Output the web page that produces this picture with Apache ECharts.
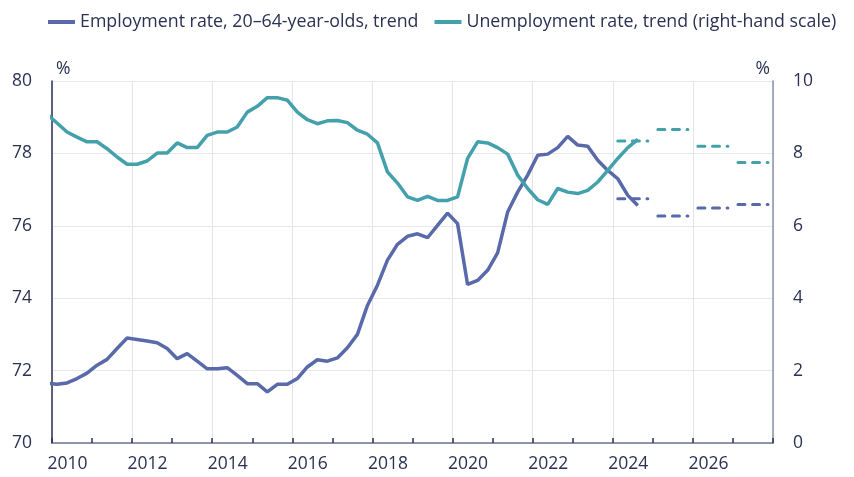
<!DOCTYPE html>
<html>
<head>
<meta charset="utf-8">
<script src="https://cdn.jsdelivr.net/npm/echarts@6/dist/echarts.min.js"></script>
<style>
  html, body { margin: 0; padding: 0; background: #fff; }
  #chart { width: 854px; height: 477px; }
</style>
</head>
<body>
<div id="chart"></div>
<script>
  // quarterly trend series, first point 2009 Q4, last 2024 Q3
  const startYear = 2009;
  const startQuarter = 4;
  const employment = [
    71.65, 71.62, 71.66, 71.78, 71.93, 72.15, 72.31, 72.61, 72.90, 72.86,
    72.82, 72.77, 72.61, 72.33, 72.47, 72.26, 72.05, 72.05, 72.08, 71.87,
    71.64, 71.64, 71.41, 71.62, 71.62, 71.78, 72.10, 72.30, 72.26, 72.35,
    72.63, 73.00, 73.80, 74.36, 75.05, 75.49, 75.71, 75.78, 75.67, 76.01,
    76.35, 76.06, 74.38, 74.49, 74.77, 75.25, 76.38, 76.93, 77.40, 77.95,
    77.98, 78.16, 78.47, 78.23, 78.20, 77.81, 77.53, 77.30, 76.84, 76.56
  ];
  const unemployment = [
    9.08, 8.84, 8.59, 8.45, 8.32, 8.32, 8.13, 7.90, 7.70, 7.70,
    7.79, 8.01, 8.01, 8.29, 8.16, 8.16, 8.50, 8.59, 8.59, 8.73,
    9.14, 9.30, 9.54, 9.54, 9.47, 9.14, 8.93, 8.82, 8.90, 8.91,
    8.85, 8.64, 8.53, 8.29, 7.49, 7.18, 6.80, 6.70, 6.81, 6.70,
    6.70, 6.80, 7.86, 8.32, 8.29, 8.16, 7.98, 7.40, 7.03, 6.72,
    6.59, 7.03, 6.93, 6.89, 6.98, 7.21, 7.53, 7.86, 8.16, 8.39
  ];
  // annual forecasts
  const forecastYears = [2024, 2025, 2026, 2027];
  const employmentForecast = [76.75, 76.27, 76.49, 76.59];
  const unemploymentForecast = [8.34, 8.66, 8.20, 7.75];

  const yLeftTicks = [70, 80, 2];
  const yRightTicks = [0, 10, 2];
  const xRange = [2010, 2028];

  const names = [
    'Employment rate, 20–64-year-olds, trend',
    'Unemployment rate, trend (right-hand scale)'
  ];

  const blue = '#5a69aa';
  const teal = '#44a1ac';
  const textColor = '#2b3152';

  // mid-quarter position on a year scale
  function qx(k) {
    let q = startQuarter - 1 + k;
    let y = startYear + Math.floor(q / 4);
    return y + ((q % 4) + 0.5) / 4;
  }
  function quarterly(vals) {
    return vals.map((v, k) => [qx(k), v]);
  }
  function annual(vals) {
    let out = [];
    forecastYears.forEach((yr, i) => {
      for (let q = 0; q < 4; q++) out.push([yr + (q + 0.5) / 4, vals[i]]);
      out.push([yr + 1, '-']);
    });
    return out;
  }

  let chart = echarts.init(document.getElementById('chart'));
  const font = 'Open Sans';

  let option = {
    animation: false,
    textStyle: { fontFamily: font },
    legend: {
      data: names,
      left: 48,
      top: 13,
      width: 806,
      padding: 0,
      itemWidth: 27,
      itemHeight: 4,
      itemGap: 16,
      icon: 'rect',
      textStyle: { fontSize: 17.8, color: textColor, fontFamily: font }
    },
    grid: { left: 52, right: 81, top: 81, bottom: 34 },
    xAxis: {
      type: 'value',
      min: xRange[0],
      max: xRange[1],
      interval: 2,
      axisLine: { lineStyle: { color: '#6f7491', width: 1.5 } },
      axisTick: { show: true, inside: true, length: 5, lineStyle: { color: '#2b3152', width: 1.5 } },
      minorTick: { show: true, splitNumber: 2, length: 5, lineStyle: { color: '#2b3152', width: 1.5 } },
      splitLine: { show: true, lineStyle: { color: '#e3e3e8', width: 1 } },
      axisLabel: {
        fontSize: 17.5,
        color: textColor,
        margin: 12,
        padding: [0, 0, 0, 31],
        showMaxLabel: false,
        formatter: v => String(v)
      }
    },
    yAxis: [
      {
        type: 'value',
        min: yLeftTicks[0],
        max: yLeftTicks[1],
        interval: yLeftTicks[2],
        name: '%',
        nameLocation: 'end',
        nameGap: 3,
        nameTextStyle: { fontSize: 17.5, color: textColor, align: 'left', padding: [0, 0, 0, 4] },
        axisLine: { show: true, lineStyle: { color: '#2b3152', width: 1.5 } },
        axisTick: { show: false },
        splitLine: { lineStyle: { color: '#e8e8ec', width: 1 } },
        axisLabel: { fontSize: 17.5, color: textColor, margin: 20 }
      },
      {
        type: 'value',
        position: 'right',
        min: yRightTicks[0],
        max: yRightTicks[1],
        interval: yRightTicks[2],
        name: '%',
        nameLocation: 'end',
        nameGap: 3,
        nameTextStyle: { fontSize: 17.5, color: textColor, align: 'right', padding: [0, 3, 0, 0] },
        axisLine: { show: true, lineStyle: { color: '#8c90a6', width: 1.5 } },
        axisTick: { show: false },
        splitLine: { show: false },
        axisLabel: { fontSize: 17.5, color: textColor, margin: 20 }
      }
    ],
    series: [
      {
        name: names[0],
        type: 'line',
        yAxisIndex: 0,
        data: quarterly(employment),
        symbol: 'none',
        color: blue,
        lineStyle: { color: blue, width: 3.5 },
        z: 3
      },
      {
        name: names[1],
        type: 'line',
        yAxisIndex: 1,
        data: quarterly(unemployment),
        symbol: 'none',
        color: teal,
        lineStyle: { color: teal, width: 3.5 },
        z: 3
      },
      {
        name: 'Employment rate, forecast',
        type: 'line',
        yAxisIndex: 0,
        data: annual(employmentForecast),
        symbol: 'none',
        connectNulls: false,
        lineStyle: { color: blue, width: 3, type: [7, 7.6], cap: 'round' },
        z: 2
      },
      {
        name: 'Unemployment rate, forecast',
        type: 'line',
        yAxisIndex: 1,
        data: annual(unemploymentForecast),
        symbol: 'none',
        connectNulls: false,
        lineStyle: { color: teal, width: 3, type: [7, 7.6], cap: 'round' },
        z: 2
      }
    ]
  };
  chart.setOption(option);
</script>
</body>
</html>
